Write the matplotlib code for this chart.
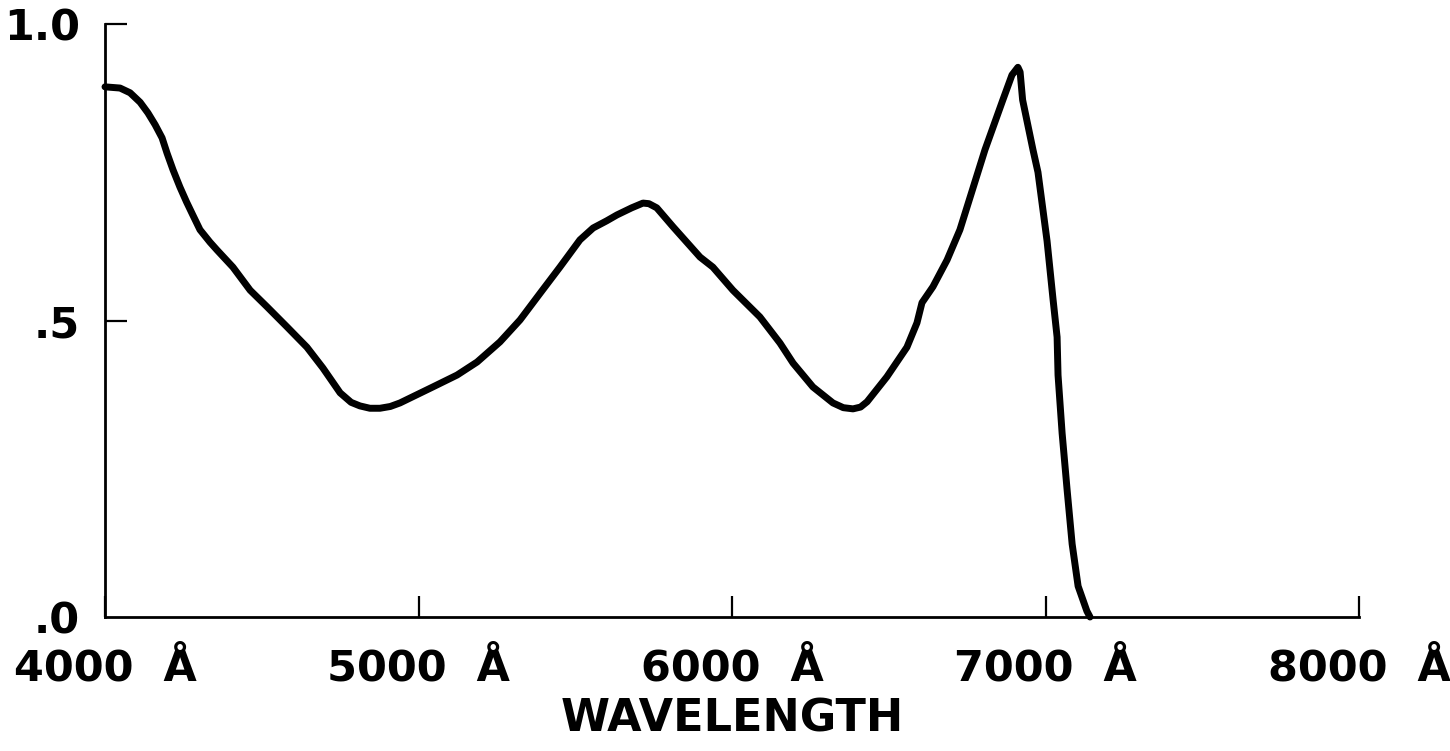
#!/usr/bin/env python3
import numpy as np
import matplotlib
matplotlib.use('Agg')
import matplotlib.pyplot as plt

# Curve (wavelength in Angstrom, relative response)
wavelength = [4000, 4048, 4080, 4112, 4137, 4160, 4182, 4198, 4217, 4239,
              4260, 4280, 4303, 4335, 4357, 4408, 4463,
              4517, 4581, 4644, 4695, 4750, 4785, 4813, 4845, 4877, 4910, 4941,
              5046, 5123, 5187, 5260, 5324, 5388, 5451, 5515, 5557, 5600,
              5633, 5680, 5716, 5735, 5760, 5812, 5898, 5939, 6003, 6089,
              6153, 6195, 6258, 6322, 6355, 6386, 6410, 6431, 6494, 6558,
              6590, 6606, 6641, 6686, 6727, 6807, 6864, 6893, 6912, 6919,
              6927, 6960, 6976, 7005, 7024, 7037, 7040, 7053, 7069, 7085,
              7104, 7132, 7142]
response = [0.894, 0.892, 0.884, 0.868, 0.850, 0.830, 0.808, 0.782, 0.754, 0.725,
            0.700, 0.678, 0.653, 0.632, 0.619, 0.590, 0.551,
            0.523, 0.489, 0.455, 0.420, 0.378, 0.362, 0.356, 0.352, 0.352, 0.355, 0.361,
            0.388, 0.408, 0.430, 0.464, 0.501, 0.546, 0.590, 0.636, 0.656, 0.668,
            0.678, 0.690, 0.698, 0.697, 0.690, 0.658, 0.607, 0.590, 0.551, 0.506,
            0.462, 0.428, 0.388, 0.361, 0.353, 0.351, 0.354, 0.363, 0.405, 0.455,
            0.496, 0.530, 0.557, 0.602, 0.653, 0.788, 0.872, 0.914, 0.927, 0.919,
            0.872, 0.788, 0.750, 0.634, 0.536, 0.472, 0.408, 0.310, 0.214, 0.123,
            0.052, 0.010, 0.0]

xticks = [4000, 5000, 6000, 7000, 8000]
xticklabels = ['4000  Å', '5000  Å', '6000  Å', '7000  Å', '8000  Å']
yticks = [0.0, 0.5, 1.0]
yticklabels = ['.0', '.5', '1.0']

# Figure parameters
left = 105 / 1450
right = 1359 / 1450
bottom = (751 - 617) / 751
top = (751 - 24) / 751
fs = 31


def main():
    plt.rcParams['font.family'] = ['DejaVu Sans']
    plt.rcParams['font.weight'] = 'bold'

    fig = plt.figure(figsize=(14.5, 7.51), dpi=100)
    ax = fig.add_axes((left, bottom, right - left, top - bottom))

    ax.plot(wavelength, response, 'k-', lw=5.0, solid_joinstyle='round',
            solid_capstyle='round', clip_on=False)

    ax.set_xlim(4000, 8000)
    ax.set_ylim(0, 1)
    for s in ['top', 'right']:
        ax.spines[s].set_visible(False)
    for s in ['left', 'bottom']:
        ax.spines[s].set_linewidth(2.0)

    ax.set_xticks(xticks)
    ax.set_xticklabels(xticklabels, fontsize=fs, fontweight='bold')
    ax.set_yticks(yticks)
    ax.set_yticklabels(yticklabels, fontsize=fs, fontweight='bold')
    ax.tick_params(axis='x', direction='in', length=15, width=1.6, pad=22)
    ax.tick_params(axis='y', direction='in', length=16, width=1.6, pad=18)
    ax.yaxis.get_major_ticks()[0].tick1line.set_visible(False)

    fig.text((left + right) / 2, (751 - 719) / 751, 'WAVELENGTH',
             fontsize=32, fontweight='bold', ha='center', va='center')

    fig.savefig('out.png', dpi=100, facecolor='white')


if (__name__ == "__main__"):
    main()
